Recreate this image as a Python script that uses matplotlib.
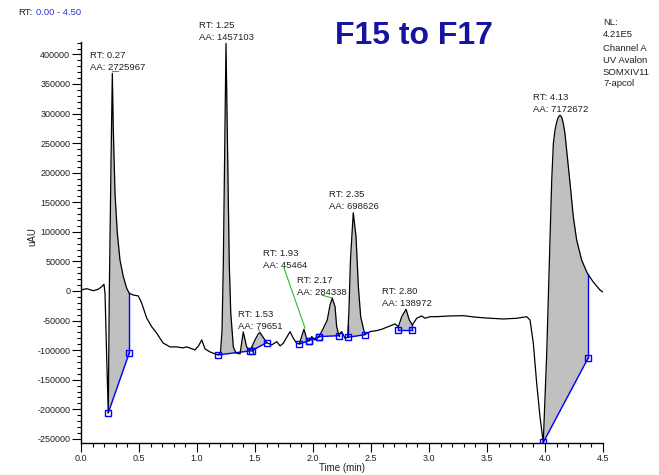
import numpy as np
import matplotlib
matplotlib.use('Agg')
import matplotlib.pyplot as plt
from matplotlib.ticker import MultipleLocator

plt.rcParams['font.family'] = ['Liberation Sans', 'DejaVu Sans']

# chromatogram trace, time (min) and signal (uAU)
time_min = [0.000, 0.049, 0.106, 0.149, 0.178, 0.198, 0.207, 0.222, 0.235, 0.244,
            0.259, 0.270, 0.278, 0.293, 0.313, 0.336, 0.365, 0.394, 0.416, 0.451,
            0.494, 0.523, 0.566, 0.609, 0.653, 0.707, 0.767, 0.825, 0.879, 0.911,
            0.983, 1.013, 1.041, 1.069, 1.112, 1.155, 1.184, 1.203, 1.216, 1.227,
            1.241, 1.250, 1.261, 1.270, 1.278, 1.291, 1.313, 1.336, 1.371, 1.399,
            1.428, 1.457, 1.500, 1.528, 1.543, 1.566, 1.586, 1.601, 1.644, 1.687,
            1.716, 1.744, 1.802, 1.830, 1.859, 1.882, 1.922, 1.946, 1.966, 1.989,
            2.017, 2.052, 2.089, 2.123, 2.147, 2.166, 2.190, 2.204, 2.222, 2.247,
            2.276, 2.299, 2.310, 2.323, 2.347, 2.371, 2.391, 2.411, 2.434, 2.448,
            2.491, 2.549, 2.592, 2.649, 2.707, 2.736, 2.765, 2.802, 2.830, 2.856,
            2.894, 2.937, 2.966, 3.009, 3.066, 3.181, 3.296, 3.411, 3.526, 3.641,
            3.756, 3.842, 3.871, 3.899, 3.928, 3.957, 3.985, 4.014, 4.043, 4.058,
            4.072, 4.086, 4.101, 4.115, 4.129, 4.144, 4.158, 4.172, 4.187, 4.216,
            4.244, 4.273, 4.316, 4.365, 4.416, 4.474, 4.500]
signal_uau = [1700, 3900, 500, 2900, 7300, 11300, -3900, -116500, -205900, -3400,
              221100, 368000, 277300, 165400, 97900, 52300, 24100, 4600, -3900, -6800,
              -8400, -20300, -45600, -60300, -71400, -87800, -94500, -94500, -96200, -94500,
              -99600, -92800, -82700, -97900, -103000, -106300, -108000, -103000, -65800, 47300,
              271800, 418600, 271800, 158700, 47300, -37100, -94500, -104700, -106300, -69200,
              -94500, -101300, -82700, -72600, -70400, -77100, -82700, -87300, -91200, -85600,
              -92800, -88300, -68700, -79800, -88300, -89500, -64700, -81500, -83900, -77100,
              -82700, -77100, -63000, -49000, -23600, -12300, -26500, -60300, -74300, -68700,
              -79800, -78200, -32100, 52300, 132200, 91700, 7300, -43400, -63000, -73800,
              -68700, -67000, -64700, -60300, -55700, -60300, -43400, -30900, -49000, -57400,
              -46100, -42200, -46100, -43400, -43400, -42200, -41700, -44400, -46100, -47300,
              -46100, -43400, -49000, -87800, -155300, -212700, -256600, -109700, 87800, 187400,
              249300, 271800, 285800, 294200, 297100, 294200, 283100, 266200, 238000, 181800,
              125400, 86100, 52300, 29900, 15200, 1700, -1700]

# integration baselines (start / end of each integrated peak)
base_t0 = [0.235, 1.184, 1.472, 1.882, 1.966, 2.052, 2.304, 2.736, 3.985]
base_v0 = [-205900, -108000, -100800, -89500, -83900, -77100, -78200, -66300, -256000]
base_t1 = [0.416, 1.457, 1.601, 1.966, 2.052, 2.227, 2.448, 2.856, 4.371]
base_v1 = [-104700, -101300, -87300, -83900, -77100, -75500, -73800, -66300, -113600]

# labelled peaks
peak_rt = ['0.27', '1.25', '1.53', '1.93', '2.17', '2.35', '2.80', '4.13']
peak_aa = ['2725967', '1457103', '79651', '45464', '284338', '698626', '138972', '7172672']

info_lines = ['NL:', '4.21E5', 'Channel A', 'UV Avalon', 'SOMXIV11', '7-apcol']

W, H = 659, 475
def fx(x, y):
    return x / W, 1 - y / H

fig = plt.figure(figsize=(6.59, 4.75), dpi=100)
ax = fig.add_axes([81 / W, 1 - 443 / H, (603 - 81) / W, (443 - 42) / H])

t = np.array(time_min)
s = np.array(signal_uau)

for t0, v0, t1, v1 in zip(base_t0, base_v0, base_t1, base_v1):
    tt = np.concatenate([[t0], t[(t > t0) & (t < t1)], [t1]])
    yy = np.interp(tt, t, s)
    bb = np.interp(tt, [t0, t1], [v0, v1])
    ax.fill_between(tt, yy, bb, color='#c0c0c0', lw=0, zorder=1)
    for tx, vx in ((t0, v0), (t1, v1)):
        ax.plot([tx, tx], [vx, np.interp(tx, t, s)], color='#0000ff', lw=1, zorder=2)
    ax.plot([t0, t1], [v0, v1], color='#0000ff', lw=1, zorder=2)
    ax.plot([t0, t1], [v0, v1], 's', mfc='none', mec='#0000ff', ms=5, mew=1, zorder=4)

ax.plot(t, s, color='black', lw=0.9, zorder=3)

# peak label placement (left x px, RT baseline px)
label_px = [(90, 58), (199, 28), (238, 317), (263, 256), (297, 283), (329, 197), (382, 294), (533, 100)]
for (lx, ly), rt, aa in zip(label_px, peak_rt, peak_aa):
    fig.text(*fx(lx, ly), 'RT: ' + rt, fontsize=6.8, color='#202020', va='baseline')
    fig.text(*fx(lx, ly + 12), 'AA: ' + aa, fontsize=6.8, color='#202020', va='baseline')

# green pointer lines
green = '#2db82d'
ax.plot([0.267, 0.315], [371400, 371400], color=green, lw=0.8)
ax.plot([1.530, 1.540], [-65000, -68000], color=green, lw=0.8)
ax.plot([1.750, 1.931], [38800, -62500], color=green, lw=0.8)
ax.plot([2.075, 2.164], [-6800, -11800], color=green, lw=0.8)

ax.set_xlim(0, 4.5)
ax.set_ylim(-257000, 421000)
ax.xaxis.set_major_locator(MultipleLocator(0.5))
ax.xaxis.set_minor_locator(MultipleLocator(0.1))
ax.yaxis.set_major_locator(MultipleLocator(50000))
ax.yaxis.set_minor_locator(MultipleLocator(10000))
ax.xaxis.set_major_formatter(plt.FuncFormatter(lambda v, p: '%.1f' % v))
ax.yaxis.set_major_formatter(plt.FuncFormatter(lambda v, p: '%d' % v))
ax.tick_params(which='major', length=6.5, width=0.8, labelsize=6.5, pad=1.2, colors='black')
ax.tick_params(which='minor', length=3, width=0.8)
ax.tick_params(axis='y', labelcolor='#202020')
ax.tick_params(axis='x', labelcolor='#202020')
for sp in ('top', 'right'):
    ax.spines[sp].set_visible(False)
for sp in ('left', 'bottom'):
    ax.spines[sp].set_linewidth(1)

fig.text(*fx(32, 237), 'uAU', fontsize=7, rotation=90, ha='center', va='center', color='#202020')
fig.text(*fx(342, 468), 'Time (min)', fontsize=7, ha='center', va='center', color='#202020')

fig.text(*fx(18, 15), 'RT:', fontsize=6.8, color='#202020', va='baseline')
fig.text(*fx(36, 15), '0.00 - 4.50', fontsize=6.8, color='#3333cc', va='baseline')

fig.text(*fx(335, 44.5), 'F15 to F17', fontsize=23, fontweight='bold', color='#1414a0', va='baseline')

info_y = [25, 37, 51, 63, 75, 86]
for line, y in zip(info_lines, info_y):
    fig.text(*fx(603, y), line, fontsize=6.8, color='#202020', va='baseline')

fig.savefig('out.png', dpi=100)
